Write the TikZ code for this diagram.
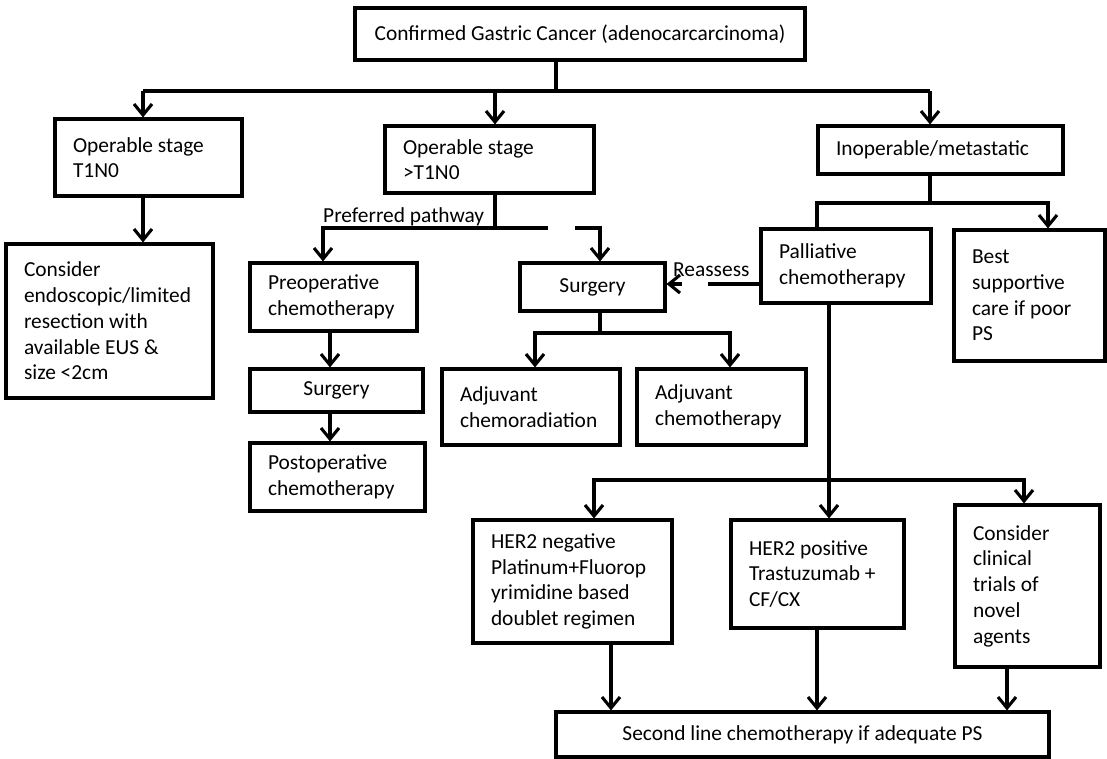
\documentclass[tikz,border=0pt]{standalone}
\usepackage{fontspec}
\setmainfont{Carlito}
\usetikzlibrary{arrows.meta}
\begin{document}
\begin{tikzpicture}[x=1pt,y=-1pt,
  every node/.style={font=\fontsize{21.4pt}{25.7pt}\selectfont},
  lbox/.style 2 args={draw, line width=3.1pt, align=flush left, text width=#1pt, inner xsep=18pt, inner ysep=0pt, minimum height=#2pt},
  cbox/.style 2 args={draw, line width=3.1pt, align=center, minimum width=#1pt, minimum height=#2pt, inner sep=0pt},
  conn/.style={line width=3.1pt},
  arr/.style={line width=3.1pt, -{Straight Barb[length=11pt,width=18pt]}},
  lbl/.style={inner sep=0pt, anchor=base west}
]
\useasboundingbox (0,0) rectangle (1107,758);

% nodes
\node[cbox={450}{52}] (top) at (580,34) {Confirmed Gastric Cancer (adenocarcarcinoma)};
\node[lbox={151}{77}] (t1n0) at (148.5,157.5) {Operable stage\\T1N0};
\node[lbox={173}{67}] (op2) at (489.5,159.5) {Operable stage\\>T1N0};
\node[lbox={209}{48}] (inop) at (940.5,150) {Inoperable/metastatic};
\node[lbox={171}{154}] (endo) at (109.5,321) {Consider\\endoscopic/limited\\resection with\\available EUS \&\\size <2cm};
\node[lbox={131}{68}] (preop) at (333.5,297) {Preoperative\\chemotherapy};
\node[cbox={173}{43}] (surgL) at (336.5,390.5) {Surgery};
\node[lbox={139}{68}] (postop) at (337.5,477) {Postoperative\\chemotherapy};
\node[cbox={145}{48}] (surg) at (592.5,287) {Surgery};
\node[lbox={142}{76}] (adjr) at (531,407) {Adjuvant\\chemoradiation};
\node[lbox={133}{76}] (adjc) at (721.5,407) {Adjuvant\\chemotherapy};
\node[lbox={134}{74}] (pall) at (846,266) {Palliative\\chemotherapy};
\node[lbox={115}{131}] (best) at (1029.5,295.5) {Best\\supportive\\care if poor\\PS};
\node[lbox={163}{123}] (her2n) at (572.5,581.5) {HER2 negative\\Platinum+Fluorop\\yrimidine based\\doublet regimen};
\node[lbox={137}{108}] (her2p) at (817.5,574) {HER2 positive\\Trastuzumab +\\CF/CX};
\node[lbox={109}{162}] (clin) at (1027.5,586) {Consider\\clinical\\trials of\\novel\\agents};
\node[cbox={493}{45}] (second) at (802.5,734.5) {Second line chemotherapy if adequate PS};

% labels
\node[lbl] (lpref) at (323,222) {Preferred pathway};
\node[lbl] (lreas) at (673,276) {Reassess};

% branch points
\coordinate (j1) at (556,91);
\coordinate (a1) at (143,91);
\coordinate (a2) at (495,91);
\coordinate (a3) at (930,91);
\coordinate (b0) at (495,228);
\coordinate (b1) at (323,228);
\coordinate (b2) at (548,228);
\coordinate (b3) at (575,228);
\coordinate (b4) at (600,228);
\coordinate (c0) at (600,333);
\coordinate (c1) at (535,333);
\coordinate (c2) at (730,333);
\coordinate (d) at (330,0);
\coordinate (e) at (0,284);
\coordinate (f0) at (930,203);
\coordinate (f1) at (817,203);
\coordinate (f2) at (1048,203);
\coordinate (g0) at (829,480);
\coordinate (g1) at (594,480);
\coordinate (g2) at (1024,480);
\coordinate (h1) at (611,0);
\coordinate (h2) at (817,0);
\coordinate (h3) at (1007,0);

% connectors
\draw[conn] (top.south -| j1) -- (j1);
\draw[conn] (a1) -- (a3);
\draw[arr] (a1) -- (a1 |- t1n0.north);
\draw[arr] (a2) -- (a2 |- op2.north);
\draw[arr] (a3) -- (a3 |- inop.north);
\draw[arr] (a1 |- t1n0.south) -- (a1 |- endo.north);

\draw[conn] (b0 |- op2.south) -- (b0);
\draw[arr] (b2) -- (b1) -- (b1 |- preop.north);
\draw[arr] (b3) -- (b4) -- (b4 |- surg.north);

\draw[arr] (preop.south -| d) -- (d |- surgL.north);
\draw[arr] (surgL.south -| d) -- (d |- postop.north);

\draw[conn] (c0 |- surg.south) -- (c0);
\draw[arr] (c0) -- (c1) -- (c1 |- adjr.north);
\draw[arr] (c0) -- (c2) -- (c2 |- adjc.north);

\draw[arr, dash pattern=on 51pt off 26pt on 200pt] (pall.west |- e) -- (surg.east |- e);

\draw[conn] (f0 |- inop.south) -- (f0);
\draw[conn] (f0) -- (f1) -- (f1 |- pall.north);
\draw[arr] (f0) -- (f2) -- (f2 |- best.north);

\draw[arr] (g0 |- pall.south) -- (g0 |- her2p.north);
\draw[arr] (g0) -- (g1) -- (g1 |- her2n.north);
\draw[arr] (g0) -- (g2) -- (g2 |- clin.north);

\draw[arr] (her2n.south -| h1) -- (h1 |- second.north);
\draw[arr] (her2p.south -| h2) -- (h2 |- second.north);
\draw[arr] (clin.south -| h3) -- (h3 |- second.north);
\end{tikzpicture}
\end{document}
